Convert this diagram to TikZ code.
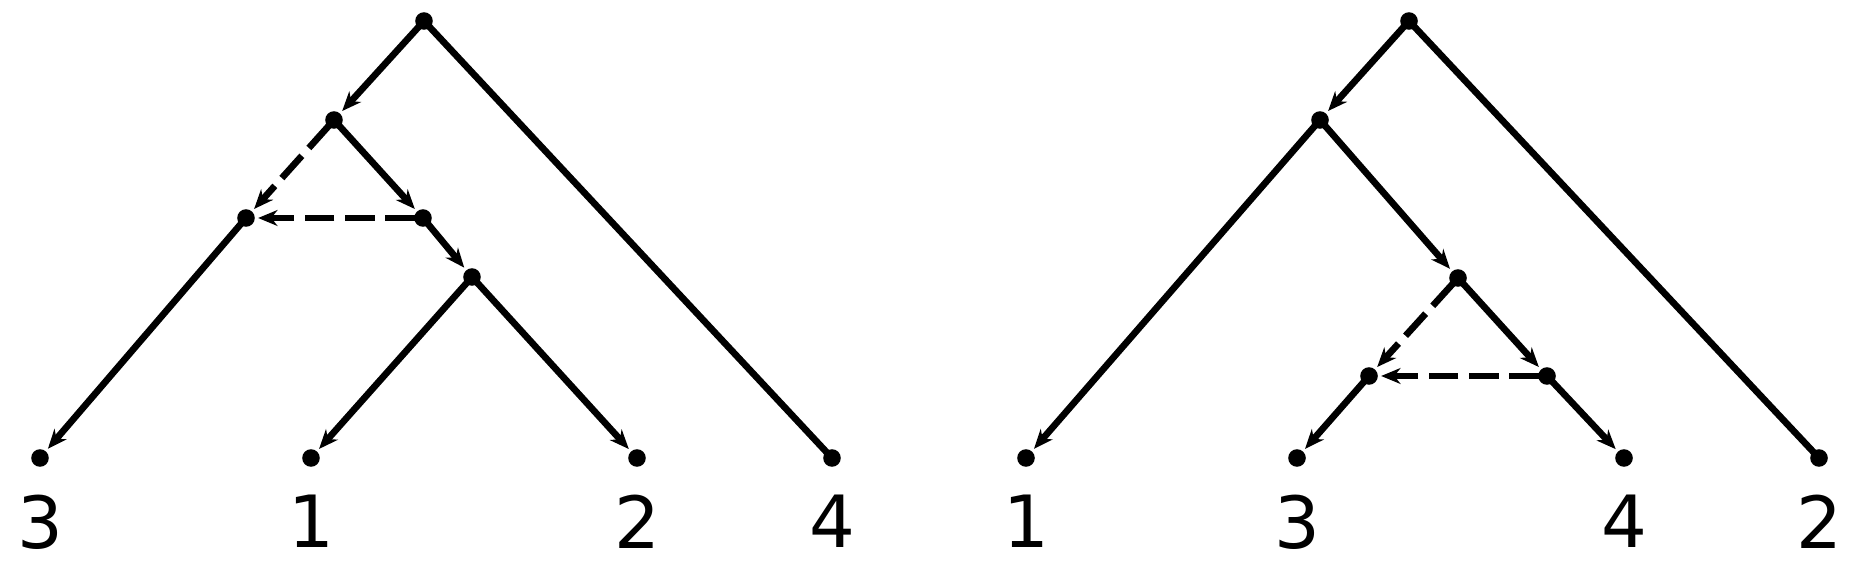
\documentclass[tikz,border=0pt]{standalone}
\usepackage{fontspec}
\setmainfont{DejaVu Sans}
\usetikzlibrary{arrows.meta,positioning}
\tikzstyle{vtx}=[circle,fill=black,inner sep=0pt,minimum size=10pt]
\tikzstyle{lbl}=[inner sep=0pt,font=\fontsize{41}{49}\selectfont]
\tikzstyle{xfer}=[dash pattern=on 17pt off 6pt]

\begin{document}
\begin{tikzpicture}[x=0.02cm,y=0.02cm,->,>={Stealth[length=11pt,width=9pt,inset=3.5pt]},
                    line width=3.8pt,shorten <=-2.5pt,node distance=12pt]
  \useasboundingbox (0,0) rectangle (1858,574);

  % left tree
  \node[vtx] (r1) at (424,553) {};
  \node[vtx] (a1) at (334,454) {};
  \node[vtx] (b1) at (246,356) {};
  \node[vtx] (c1) at (423,356) {};
  \node[vtx] (d1) at (472,297) {};
  \node[vtx] (l13) at (40,116) {};
  \node[vtx] (l11) at (311,116) {};
  \node[vtx] (l12) at (637,116) {};
  \node[vtx] (l14) at (832,116) {};
  \node[lbl, below=of l13] (t13) {3};
  \node[lbl, below=of l11] (t11) {1};
  \node[lbl, below=of l12] (t12) {2};
  \node[lbl, below=of l14] (t14) {4};

  \path (r1) edge (a1)
        (r1) edge[-,shorten >=-2.5pt] (l14)
        (a1) edge[xfer] (b1)
        (a1) edge (c1)
        (c1) edge[xfer] (b1)
        (c1) edge (d1)
        (b1) edge (l13)
        (d1) edge (l11)
        (d1) edge (l12);

  % right tree
  \node[vtx] (r2) at (1409,553) {};
  \node[vtx] (a2) at (1320,454) {};
  \node[vtx] (c2) at (1458,296) {};
  \node[vtx] (b2) at (1369,198) {};
  \node[vtx] (e2) at (1547,198) {};
  \node[vtx] (l21) at (1026,116) {};
  \node[vtx] (l23) at (1297,116) {};
  \node[vtx] (l24) at (1624,116) {};
  \node[vtx] (l22) at (1819,116) {};
  \node[lbl, below=of l21] (t21) {1};
  \node[lbl, below=of l23] (t23) {3};
  \node[lbl, below=of l24] (t24) {4};
  \node[lbl, below=of l22] (t22) {2};

  \path (r2) edge (a2)
        (r2) edge[-,shorten >=-2.5pt] (l22)
        (a2) edge (l21)
        (a2) edge (c2)
        (c2) edge[xfer] (b2)
        (c2) edge (e2)
        (e2) edge[xfer] (b2)
        (b2) edge (l23)
        (e2) edge (l24);
\end{tikzpicture}
\end{document}
